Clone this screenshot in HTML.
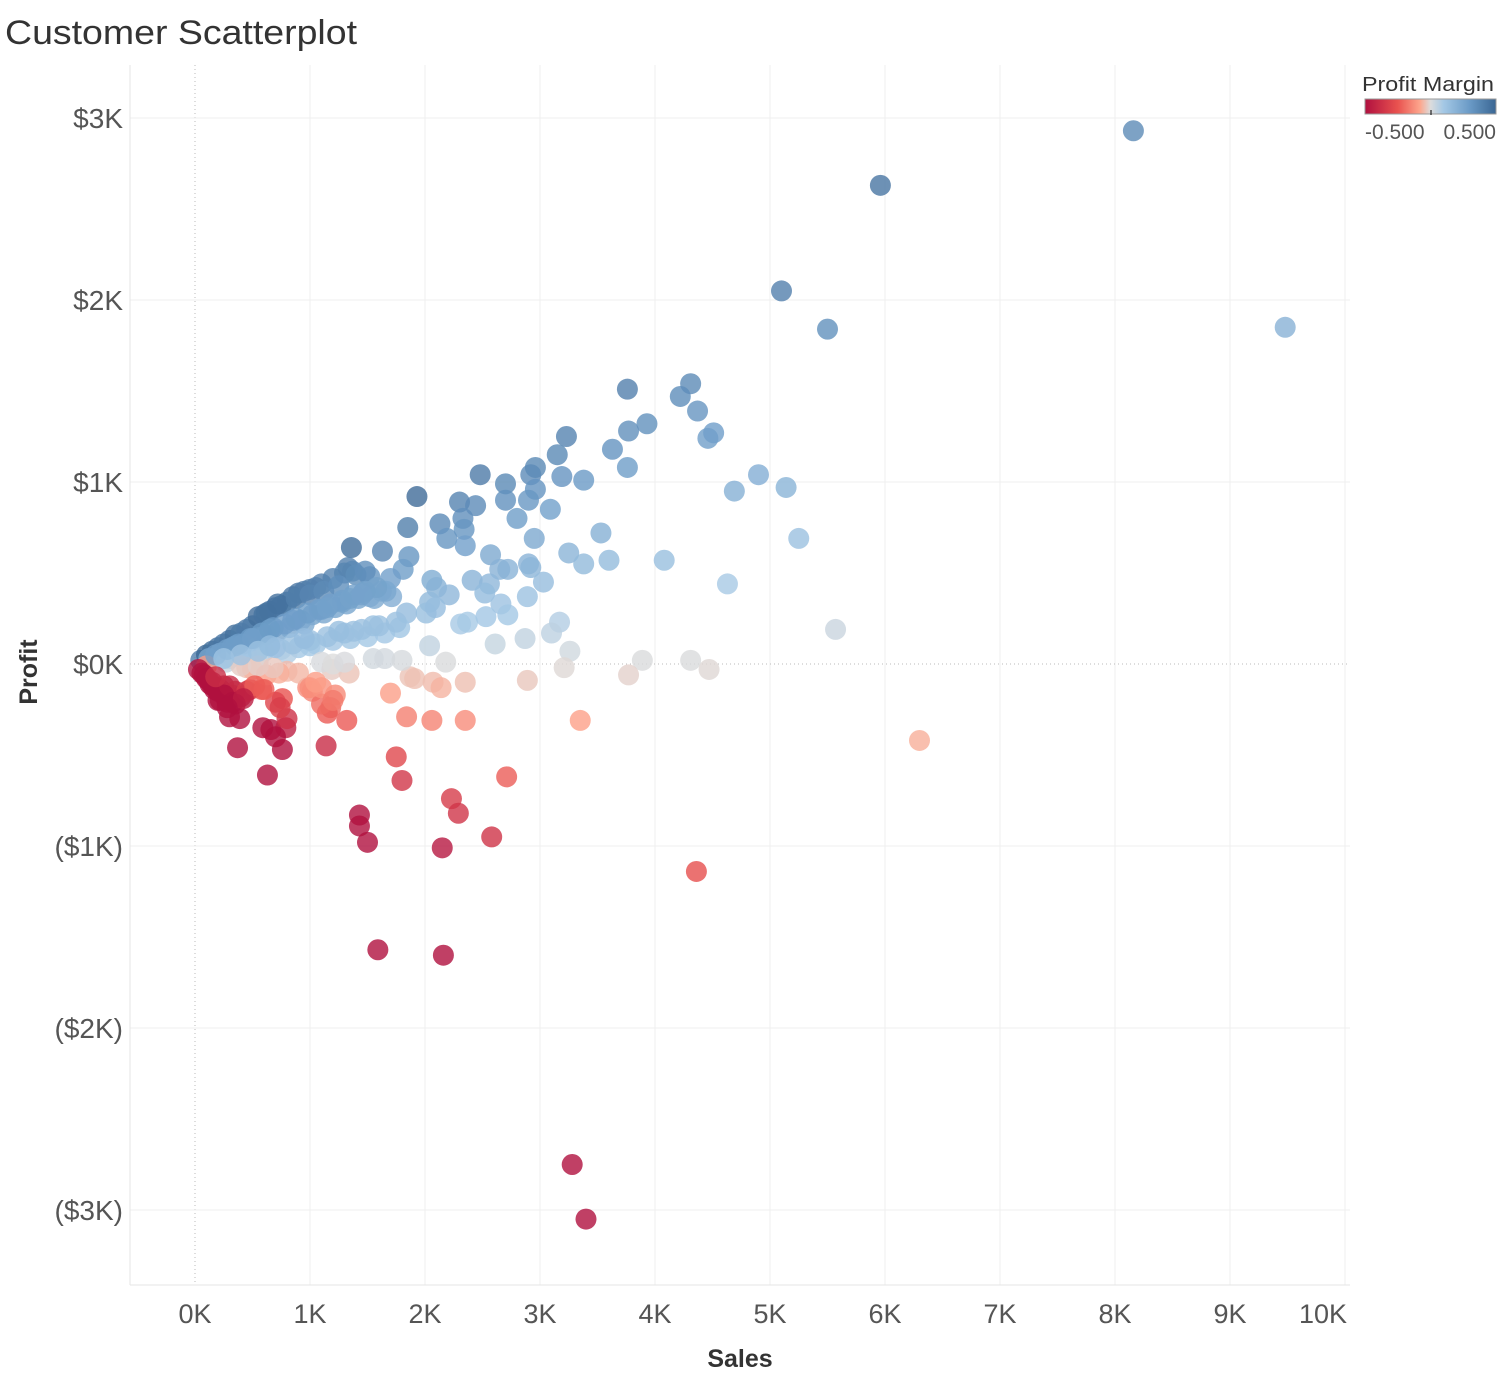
<!DOCTYPE html>
<html><head><meta charset="utf-8"><style>
body{margin:0;background:#fff;width:1501px;height:1383px;overflow:hidden;font-family:"Liberation Sans",sans-serif}
</style></head><body>
<svg id="chart" width="1501" height="1383" xmlns="http://www.w3.org/2000/svg">
<defs><linearGradient id="lg" x1="0" x2="1" y1="0" y2="0">
<stop offset="0" stop-color="#b0103f"/><stop offset="0.25" stop-color="#e9524f"/><stop offset="0.42" stop-color="#fda68d"/><stop offset="0.5" stop-color="#dcdcdc"/><stop offset="0.6" stop-color="#a4c8e5"/><stop offset="0.8" stop-color="#6a9ac6"/><stop offset="1" stop-color="#3a6693"/></linearGradient></defs>
<text x="5" y="44" font-size="34" fill="#333" textLength="352" lengthAdjust="spacingAndGlyphs">Customer Scatterplot</text>
<g id="grid"></g><g id="axes"></g><g id="marks"></g>
<text transform="translate(37,672) rotate(-90)" text-anchor="middle" font-size="25" font-weight="bold" fill="#333">Profit</text>
<text x="740" y="1367" text-anchor="middle" font-size="25" font-weight="bold" fill="#333">Sales</text>
<g>
<text x="1362" y="91" font-size="20" fill="#333" textLength="132" lengthAdjust="spacingAndGlyphs">Profit Margin</text>
<rect x="1365" y="99" width="131" height="15" fill="url(#lg)" stroke="#999" stroke-width="1"/>
<line x1="1431" x2="1431" y1="110" y2="115" stroke="#000"/>
<text x="1365" y="139" font-size="21" fill="#555">-0.500</text>
<text x="1496" y="139" text-anchor="end" font-size="21" fill="#555">0.500</text>
</g>
</svg>
<script>
const xTicks=[0,1,2,3,4,5,6,7,8,9,10];
const xTickLabels=["0K","1K","2K","3K","4K","5K","6K","7K","8K","9K","10K"];
const yTicks=[3,2,1,0,-1,-2,-3];
const yTickLabels=["$3K","$2K","$1K","$0K","($1K)","($2K)","($3K)"];
// sales (K), profit (K)
const sales=[8.16,5.96,5.10,5.50,9.48,3.76,4.31,4.22,4.37,3.93,3.77,4.51,4.46,3.23,3.15,3.63,3.76,2.96,2.48,2.92,3.19,3.38,2.70,2.96,1.93,2.30,2.70,2.44,2.90,4.69,4.90,5.14,2.80,3.09,2.13,2.33,2.34,1.85,2.19,2.35,2.95,1.36,1.63,1.86,2.57,3.53,3.25,5.25,4.08,3.60,3.38,2.90,2.72,2.92,2.65,1.33,1.37,1.81,1.70,1.52,2.06,2.10,2.41,2.56,3.03,4.63,2.21,2.52,2.89,2.66,1.71,1.84,2.04,2.01,2.09,2.31,2.37,2.53,2.72,3.17,3.10,2.87,2.61,2.04,5.57,3.26,3.89,4.31,2.18,
4.47,3.77,3.21,2.89,2.35,2.07,2.14,1.87,1.91,1.70,3.35,2.35,2.06,1.84,1.32,1.22,1.18,1.15,1.02,0.98,1.10,1.34,1.19,
6.30,2.71,1.75,1.80,2.23,2.29,2.58,2.15,1.43,1.43,1.50,4.36,1.59,2.16,3.28,3.40,0.63,0.37,0.76,1.14,0.39,0.30,0.59,0.66,0.79,0.70,0.80,0.76,0.70,0.74,0.48,0.58,0.17,0.22,0.32,0.13,
0.05,0.10,0.15,0.20,0.25,0.30,0.35,0.40,0.45,0.50,0.55,0.60,0.65,0.70,0.75,0.80,0.85,0.90,0.95,1.00,1.05,1.10,1.20,1.30,1.40,1.48,0.62,0.72,0.88,1.00,1.12,1.25,
0.12,0.22,0.32,0.42,0.52,0.62,0.72,0.82,0.92,1.02,1.12,1.22,1.32,1.42,1.52,1.62,1.10,1.28,1.46,1.56,1.66,0.95,
0.30,0.45,0.60,0.75,0.90,1.05,1.20,1.35,1.50,1.65,1.78,1.55,1.38,1.00,0.80,
0.27,0.55,1.10,1.20,1.55,1.65,1.80,1.30,
0.10,0.45,0.50,0.80,0.90,1.00,1.10,1.20,0.62,0.73,1.05,0.40,0.55,0.68,
0.03,0.06,0.10,0.15,0.20,0.25,0.30,0.35,0.20,0.12,0.28,0.40,0.18,0.08,
0.18,0.28,0.38,0.48,0.58,0.68,0.78,0.88,0.98,1.08,1.18,1.28,1.38,1.48,1.58,0.35,0.50,0.65,0.85,1.15,1.35,1.45,
0.25,0.40,0.55,0.70,0.85,1.00,1.15,1.30,1.45,1.60,1.75,0.65,0.95,1.25,
0.15,0.22,0.30,0.25,0.33,0.18,0.45,0.52,0.60,0.35,0.42,0.28];
const profit=[2.93,2.63,2.05,1.84,1.85,1.51,1.54,1.47,1.39,1.32,1.28,1.27,1.24,1.25,1.15,1.18,1.08,1.08,1.04,1.04,1.03,1.01,0.99,0.96,0.92,0.89,0.90,0.87,0.90,0.95,1.04,0.97,0.80,0.85,0.77,0.80,0.74,0.75,0.69,0.65,0.69,0.64,0.62,0.59,0.60,0.72,0.61,0.69,0.57,0.57,0.55,0.55,0.52,0.53,0.52,0.53,0.51,0.52,0.47,0.48,0.46,0.42,0.46,0.44,0.45,0.44,0.38,0.39,0.37,0.33,0.37,0.28,0.34,0.28,0.31,0.22,0.23,0.26,0.27,0.23,0.17,0.14,0.11,0.10,0.19,0.07,0.02,0.02,0.01,
-0.03,-0.06,-0.02,-0.09,-0.10,-0.10,-0.13,-0.07,-0.08,-0.16,-0.31,-0.31,-0.31,-0.29,-0.31,-0.17,-0.24,-0.27,-0.15,-0.13,-0.22,-0.05,-0.03,
-0.42,-0.62,-0.51,-0.64,-0.74,-0.82,-0.95,-1.01,-0.83,-0.89,-0.98,-1.14,-1.57,-1.60,-2.75,-3.05,-0.61,-0.46,-0.47,-0.45,-0.30,-0.29,-0.35,-0.36,-0.35,-0.40,-0.30,-0.19,-0.21,-0.24,-0.14,-0.14,-0.14,-0.20,-0.17,-0.11,
0.02,0.05,0.07,0.09,0.11,0.13,0.16,0.17,0.19,0.21,0.26,0.27,0.29,0.31,0.32,0.34,0.37,0.39,0.40,0.41,0.42,0.44,0.47,0.50,0.49,0.51,0.28,0.33,0.36,0.38,0.40,0.43,
0.03,0.06,0.09,0.11,0.14,0.16,0.18,0.20,0.24,0.27,0.28,0.31,0.33,0.36,0.37,0.40,0.30,0.34,0.39,0.36,0.40,0.22,
0.03,0.05,0.07,0.08,0.09,0.11,0.13,0.14,0.15,0.17,0.20,0.21,0.18,0.10,0.06,
0.01,0.02,0.01,0.00,0.03,0.03,0.02,0.01,
-0.01,-0.02,-0.03,-0.04,-0.05,-0.13,-0.13,-0.20,-0.06,-0.05,-0.10,-0.01,-0.01,-0.02,
-0.03,-0.05,-0.08,-0.12,-0.15,-0.12,-0.18,-0.15,-0.20,-0.09,-0.21,-0.18,-0.13,-0.06,
0.05,0.08,0.11,0.14,0.17,0.20,0.22,0.25,0.28,0.30,0.33,0.35,0.38,0.40,0.42,0.10,0.14,0.19,0.24,0.31,0.36,0.38,
0.03,0.05,0.07,0.09,0.11,0.13,0.15,0.17,0.19,0.21,0.23,0.10,0.14,0.18,
-0.10,-0.14,-0.12,-0.17,-0.21,-0.07,-0.15,-0.12,-0.14,-0.22,-0.19,-0.24];
const X=v=>195+v*115, Y=v=>664-v*182;
const NS="http://www.w3.org/2000/svg";
function mk(tag,at,parent){const e=document.createElementNS(NS,tag);for(const k in at)e.setAttribute(k,at[k]);parent.appendChild(e);return e;}
const grid=document.getElementById('grid'),axes=document.getElementById('axes'),marks=document.getElementById('marks');
xTicks.forEach((t,i)=>{
 const l=mk('line',{x1:X(t),x2:X(t),y1:65,y2:1285,stroke:t===0?'#bbb':'#efefef','stroke-dasharray':t===0?'1,3':'none'},grid);
 
 
 const tx=mk('text',{x:X(t)-(t===10?22:0),y:1323,'text-anchor':'middle','font-size':27,fill:'#555'},axes);
 tx.textContent=xTickLabels[i];
 
 
});
yTicks.forEach((t,i)=>{
 const l=mk('line',{x1:130,x2:1350,y1:Y(t),y2:Y(t),stroke:t===0?'#bbb':'#efefef','stroke-dasharray':t===0?'1,3':'none'},grid);
 
 
 const tx=mk('text',{x:123,y:Y(t)+10,'text-anchor':'end','font-size':28,fill:'#555'},axes);
 tx.textContent=yTickLabels[i];
 
 
});
const ax=mk('line',{x1:130,x2:130,y1:65,y2:1285,stroke:'#e6e6e6'},axes);


const bx=mk('line',{x1:130,x2:1350,y1:1285,y2:1285,stroke:'#e6e6e6'},axes);


const stops=[[-1,[176,16,63]],[-0.5,[233,82,79]],[-0.16,[253,166,141]],[0,[220,220,220]],[0.2,[164,200,229]],[0.6,[106,154,198]],[1,[58,102,147]]];
function col(m){let t=Math.max(-1,Math.min(1,m/0.5));for(let i=1;i<stops.length;i++){if(t<=stops[i][0]){const a=stops[i-1],b=stops[i],f=(t-a[0])/(b[0]-a[0]);return 'rgb('+a[1].map((c,j)=>Math.round(c+(b[1][j]-c)*f)).join(',')+')';}}return 'rgb(58,102,147)';}
sales.forEach((s,i)=>{
 const p=profit[i];
 const c=mk('circle',{cx:X(s),cy:Y(p),r:10.5,fill:col(p/s),'fill-opacity':0.8},marks);
 
 
});
</script>
</body></html>
